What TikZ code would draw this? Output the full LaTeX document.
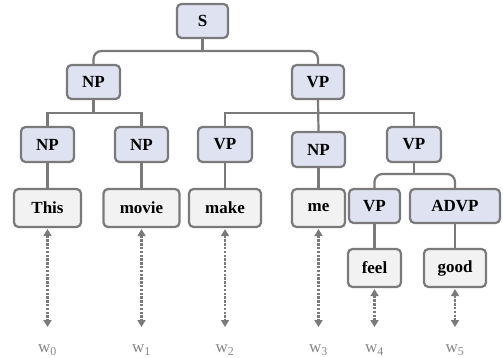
\documentclass[tikz,border=0pt]{standalone}
\usepackage{fontspec}
\setmainfont{Liberation Serif}
\usetikzlibrary{arrows.meta}
\definecolor{edgegray}{HTML}{7A7A7A}
\definecolor{ntfill}{HTML}{DFE2F1}
\definecolor{tfill}{HTML}{F2F2F2}
\definecolor{labgray}{HTML}{858585}
\begin{document}
\begin{tikzpicture}[x=1pt,y=-1pt,
  base/.style={draw=edgegray,line width=2.2pt,rounded corners=4.5pt,inner sep=0pt,
    font=\fontsize{17}{17}\selectfont\bfseries,text=black},
  nt/.style={base,fill=ntfill,minimum height=34pt},
  term/.style={base,fill=tfill,minimum height=38pt},
  edge/.style={draw=edgegray,line width=2.2pt},
  curved/.style={edge,rounded corners=8pt},
  dotarrow/.style={draw=edgegray,line width=2.4pt,dash pattern=on 2.4pt off 1.4pt,
    {Triangle[width=8pt,length=7pt]}-{Triangle[width=8pt,length=7pt]},shorten <=1pt},
  wlab/.style={text=labgray,font=\fontsize{17}{17}\selectfont,inner sep=0pt}]
\useasboundingbox (0,0) rectangle (503,358);
% nonterminals
\node[nt,minimum width=51pt] (S) at (202.5,21) {S};
\node[nt,minimum width=53pt] (NP1) at (93.5,82) {NP};
\node[nt,minimum width=52pt] (VP1) at (318,82) {VP};
\node[nt,minimum width=53pt,minimum height=35pt] (NPa) at (47.5,144.5) {NP};
\node[nt,minimum width=53pt,minimum height=35pt] (NPb) at (141.5,144.5) {NP};
\node[nt,minimum width=54pt,minimum height=35pt] (VPa) at (225,144.5) {VP};
\node[nt,minimum width=53pt,minimum height=35pt] (NPc) at (318.5,149.5) {NP};
\node[nt,minimum width=54pt,minimum height=35pt] (VPb) at (414,144.5) {VP};
\node[nt,minimum width=51pt] (VPc) at (374.5,206) {VP};
\node[nt,minimum width=90pt] (ADVP) at (455,206) {ADVP};
% terminals
\node[term,minimum width=67pt] (This) at (47.5,208) {This};
\node[term,minimum width=76pt] (movie) at (141.5,208) {movie};
\node[term,minimum width=72pt] (make) at (225,208) {make};
\node[term,minimum width=53pt] (me) at (318.5,208) {me};
\node[term,minimum width=53pt] (feel) at (374.5,268) {feel};
\node[term,minimum width=62pt] (good) at (455,268) {good};
% junctions
\coordinate (sj) at (202.5,51);
\coordinate (npj) at (93.5,113);
\coordinate (vpj) at (318,113);
\coordinate (vpbj) at (414,174);
% tree edges
\draw[edge] (S.south) -- (sj);
\draw[curved] (NP1.north) |- (sj) -| (VP1.north);
\draw[edge] (NP1.south) -- (npj);
\draw[edge] (NPa.north) |- (npj) -| (NPb.north);
\draw[edge] (VP1.south) -- (NPc.north);
\draw[edge] (VPa.north) |- (vpj) -| (VPb.north);
\draw[edge] (VPb.south) -- (vpbj);
\draw[curved] (VPc.north) |- (vpbj) -| (ADVP.north);
\draw[edge] (NPa.south) -- (This.north);
\draw[edge] (NPb.south) -- (movie.north);
\draw[edge] (VPa.south) -- (make.north);
\draw[edge] (NPc.south) -- (me.north);
\draw[edge] (VPc.south) -- (feel.north);
\draw[edge] (ADVP.south) -- (good.north);
% word labels
\node[wlab] (w0) at (47.5,350) {w\textsubscript{0}};
\node[wlab] (w1) at (141.5,350) {w\textsubscript{1}};
\node[wlab] (w2) at (225,350) {w\textsubscript{2}};
\node[wlab] (w3) at (318.5,350) {w\textsubscript{3}};
\node[wlab] (w4) at (374.5,350) {w\textsubscript{4}};
\node[wlab] (w5) at (455,350) {w\textsubscript{5}};
% dotted arrows
\coordinate (a0) at (47.5,327);
\coordinate (a1) at (141.5,327);
\coordinate (a2) at (225,327);
\coordinate (a3) at (318.5,327);
\coordinate (a4) at (374.5,327);
\coordinate (a5) at (455,327);
\draw[dotarrow] (This.south) -- (a0);
\draw[dotarrow] (movie.south) -- (a1);
\draw[dotarrow] (make.south) -- (a2);
\draw[dotarrow] (me.south) -- (a3);
\draw[dotarrow] (feel.south) -- (a4);
\draw[dotarrow] (good.south) -- (a5);
\end{tikzpicture}
\end{document}
